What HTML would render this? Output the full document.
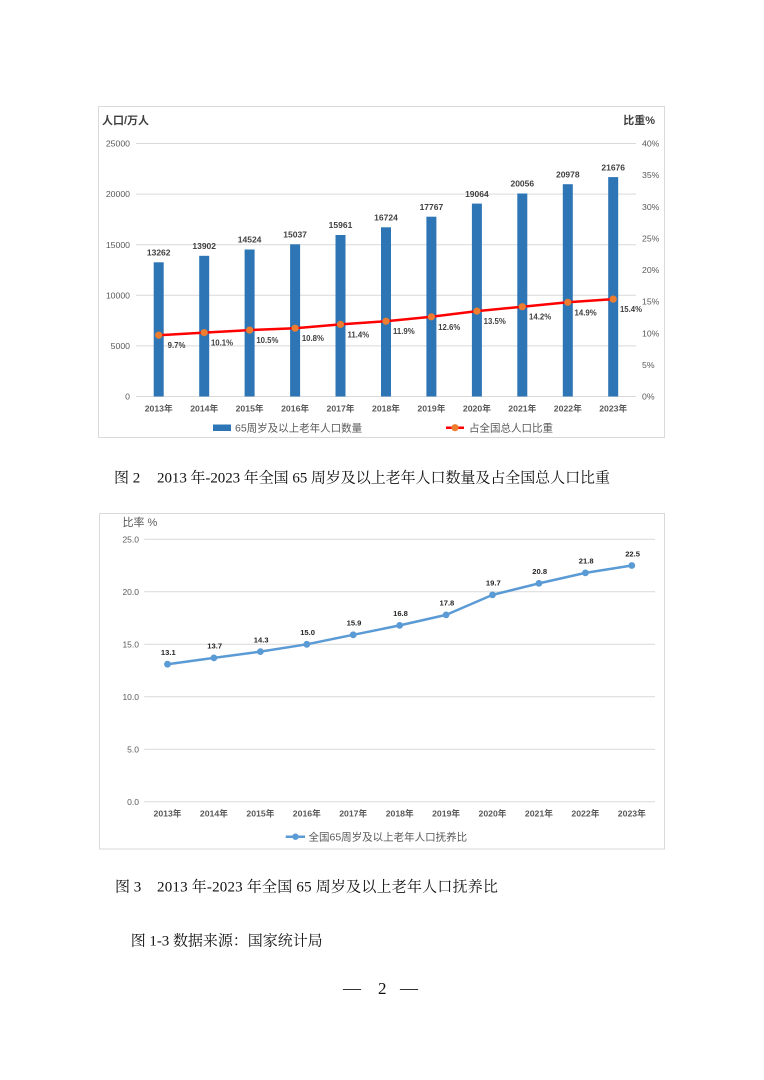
<!DOCTYPE html>
<html><head><meta charset="utf-8"><style>
html,body{margin:0;padding:0;background:#fff;}
svg{display:block;}
.s{font-family:"Liberation Sans","Noto Sans CJK SC",sans-serif;}
.sr{font-family:"Liberation Serif","Noto Serif CJK SC",serif;}
</style></head><body>
<svg width="764" height="1080" viewBox="0 0 764 1080" xmlns="http://www.w3.org/2000/svg">
<rect width="764" height="1080" fill="#fff"/>
<!-- Chart 1 -->
<rect x="98.5" y="106.5" width="566" height="331" fill="#fff" stroke="#d9d9d9" stroke-width="1"/>
<g stroke="#d9d9d9" stroke-width="1">
<line x1="136" y1="396.5" x2="636" y2="396.5"/>
<line x1="136" y1="345.9" x2="636" y2="345.9"/>
<line x1="136" y1="295.3" x2="636" y2="295.3"/>
<line x1="136" y1="244.7" x2="636" y2="244.7"/>
<line x1="136" y1="194.1" x2="636" y2="194.1"/>
<line x1="136" y1="143.5" x2="636" y2="143.5"/>
</g>
<g class="s" font-size="8.7" fill="#595959" text-anchor="end">
<text x="130" y="399.6">0</text>
<text x="130" y="349">5000</text>
<text x="130" y="298.4">10000</text>
<text x="130" y="247.8">15000</text>
<text x="130" y="197.2">20000</text>
<text x="130" y="146.6">25000</text>
</g>
<g class="s" font-size="8.7" fill="#595959">
<text x="642" y="399.6">0%</text>
<text x="642" y="368">5%</text>
<text x="642" y="336.4">10%</text>
<text x="642" y="304.7">15%</text>
<text x="642" y="273.1">20%</text>
<text x="642" y="241.5">25%</text>
<text x="642" y="209.9">30%</text>
<text x="642" y="178.2">35%</text>
<text x="642" y="146.6">40%</text>
</g>
<text class="s" x="102" y="124" font-size="11" font-weight="bold" fill="#404040">人口/万人</text>
<text class="s" x="655" y="124" font-size="11" font-weight="bold" fill="#404040" text-anchor="end">比重%</text>
<g fill="#2e75b6">
<rect x="153.7" y="262.3" width="10" height="134.2"/>
<rect x="199.2" y="255.8" width="10" height="140.7"/>
<rect x="244.6" y="249.5" width="10" height="147"/>
<rect x="290.1" y="244.3" width="10" height="152.2"/>
<rect x="335.5" y="235.0" width="10" height="161.5"/>
<rect x="381.0" y="227.3" width="10" height="169.2"/>
<rect x="426.4" y="216.7" width="10" height="179.8"/>
<rect x="471.9" y="203.6" width="10" height="192.9"/>
<rect x="517.3" y="193.5" width="10" height="203"/>
<rect x="562.8" y="184.2" width="10" height="212.3"/>
<rect x="608.2" y="177.1" width="10" height="219.4"/>
</g>
<g class="s" font-size="8.5" font-weight="bold" fill="#404040" text-anchor="middle">
<text x="158.7" y="255.5">13262</text>
<text x="204.2" y="249">13902</text>
<text x="249.6" y="242.7">14524</text>
<text x="295.1" y="237.5">15037</text>
<text x="340.5" y="228.2">15961</text>
<text x="386.0" y="220.5">16724</text>
<text x="431.4" y="209.9">17767</text>
<text x="476.9" y="196.8">19064</text>
<text x="522.3" y="186.7">20056</text>
<text x="567.8" y="177.4">20978</text>
<text x="613.2" y="170.3">21676</text>
</g>
<polyline fill="none" stroke="#ff0000" stroke-width="2.5" stroke-linejoin="round" points="158.7,335.2 204.2,332.6 249.6,330.1 295.1,328.2 340.5,324.4 386.0,321.2 431.4,316.8 476.9,311.1 522.3,306.7 567.8,302.3 613.2,299.1"/>
<g fill="#ed7d31">
<circle cx="158.7" cy="335.2" r="3.6"/>
<circle cx="204.2" cy="332.6" r="3.6"/>
<circle cx="249.6" cy="330.1" r="3.6"/>
<circle cx="295.1" cy="328.2" r="3.6"/>
<circle cx="340.5" cy="324.4" r="3.6"/>
<circle cx="386.0" cy="321.2" r="3.6"/>
<circle cx="431.4" cy="316.8" r="3.6"/>
<circle cx="476.9" cy="311.1" r="3.6"/>
<circle cx="522.3" cy="306.7" r="3.6"/>
<circle cx="567.8" cy="302.3" r="3.6"/>
<circle cx="613.2" cy="299.1" r="3.6"/>
</g>
<g class="s" font-size="7.8" font-weight="bold" fill="#404040" text-anchor="middle">
<text x="176.5" y="348.2">9.7%</text>
<text x="222" y="345.6">10.1%</text>
<text x="267.4" y="343.1">10.5%</text>
<text x="312.9" y="341.2">10.8%</text>
<text x="358.3" y="337.4">11.4%</text>
<text x="403.8" y="334.2">11.9%</text>
<text x="449.2" y="329.8">12.6%</text>
<text x="494.7" y="324.1">13.5%</text>
<text x="540.1" y="319.7">14.2%</text>
<text x="585.6" y="315.3">14.9%</text>
<text x="631" y="312.1">15.4%</text>
</g>
<g class="s" font-size="8.7" font-weight="bold" fill="#595959" text-anchor="middle">
<text x="158.7" y="411.5">2013年</text>
<text x="204.2" y="411.5">2014年</text>
<text x="249.6" y="411.5">2015年</text>
<text x="295.1" y="411.5">2016年</text>
<text x="340.5" y="411.5">2017年</text>
<text x="386.0" y="411.5">2018年</text>
<text x="431.4" y="411.5">2019年</text>
<text x="476.9" y="411.5">2020年</text>
<text x="522.3" y="411.5">2021年</text>
<text x="567.8" y="411.5">2022年</text>
<text x="613.2" y="411.5">2023年</text>
</g>
<rect x="213" y="424.5" width="18" height="6.5" fill="#2e75b6"/>
<text class="s" x="235" y="431.5" font-size="10.5" fill="#595959">65周岁及以上老年人口数量</text>
<line x1="446" y1="427.7" x2="464" y2="427.7" stroke="#ff0000" stroke-width="2.5"/>
<circle cx="455" cy="427.7" r="3.6" fill="#ed7d31"/>
<text class="s" x="469" y="431.5" font-size="10.5" fill="#595959">占全国总人口比重</text>

<!-- Caption 1 -->
<text class="sr" x="114" y="482.3" font-size="15" fill="#111">图 2</text>
<text class="sr" x="157" y="482.3" font-size="15" fill="#111" textLength="453" lengthAdjust="spacing">2013 年-2023 年全国 65 周岁及以上老年人口数量及占全国总人口比重</text>

<!-- Chart 2 -->
<rect x="99.5" y="513.5" width="565" height="335.5" fill="#fff" stroke="#d9d9d9" stroke-width="1"/>
<g stroke="#d9d9d9" stroke-width="1">
<line x1="144.3" y1="801.7" x2="655" y2="801.7"/>
<line x1="144.3" y1="749.2" x2="655" y2="749.2"/>
<line x1="144.3" y1="696.7" x2="655" y2="696.7"/>
<line x1="144.3" y1="644.3" x2="655" y2="644.3"/>
<line x1="144.3" y1="591.8" x2="655" y2="591.8"/>
<line x1="144.3" y1="539.3" x2="655" y2="539.3"/>
</g>
<g class="s" font-size="8.5" fill="#595959" text-anchor="end">
<text x="139" y="804.8">0.0</text>
<text x="139" y="752.3">5.0</text>
<text x="139" y="699.8">10.0</text>
<text x="139" y="647.4">15.0</text>
<text x="139" y="594.9">20.0</text>
<text x="139" y="542.4">25.0</text>
</g>
<text class="s" x="122.5" y="526.2" font-size="11" fill="#595959">比率 %</text>
<polyline fill="none" stroke="#5b9bd5" stroke-width="2.5" stroke-linejoin="round" points="167.5,664.2 213.9,657.9 260.4,651.6 306.8,644.3 353.2,634.8 399.7,625.4 446.1,614.9 492.5,594.9 538.9,583.4 585.4,572.9 631.8,565.5"/>
<g fill="#5b9bd5">
<circle cx="167.5" cy="664.2" r="3.4"/>
<circle cx="213.9" cy="657.9" r="3.4"/>
<circle cx="260.4" cy="651.6" r="3.4"/>
<circle cx="306.8" cy="644.3" r="3.4"/>
<circle cx="353.2" cy="634.8" r="3.4"/>
<circle cx="399.7" cy="625.4" r="3.4"/>
<circle cx="446.1" cy="614.9" r="3.4"/>
<circle cx="492.5" cy="594.9" r="3.4"/>
<circle cx="538.9" cy="583.4" r="3.4"/>
<circle cx="585.4" cy="572.9" r="3.4"/>
<circle cx="631.8" cy="565.5" r="3.4"/>
</g>
<g class="s" font-size="7.6" font-weight="bold" fill="#262626" text-anchor="middle">
<text x="168.3" y="655">13.1</text>
<text x="214.7" y="648.7">13.7</text>
<text x="261.2" y="642.4">14.3</text>
<text x="307.6" y="635.1">15.0</text>
<text x="354" y="625.6">15.9</text>
<text x="400.5" y="616.2">16.8</text>
<text x="446.9" y="605.7">17.8</text>
<text x="493.3" y="585.7">19.7</text>
<text x="539.7" y="574.2">20.8</text>
<text x="586.2" y="563.7">21.8</text>
<text x="632.6" y="556.3">22.5</text>
</g>
<g class="s" font-size="8.7" font-weight="bold" fill="#595959" text-anchor="middle">
<text x="167.5" y="816.5">2013年</text>
<text x="213.9" y="816.5">2014年</text>
<text x="260.4" y="816.5">2015年</text>
<text x="306.8" y="816.5">2016年</text>
<text x="353.2" y="816.5">2017年</text>
<text x="399.7" y="816.5">2018年</text>
<text x="446.1" y="816.5">2019年</text>
<text x="492.5" y="816.5">2020年</text>
<text x="538.9" y="816.5">2021年</text>
<text x="585.4" y="816.5">2022年</text>
<text x="631.8" y="816.5">2023年</text>
</g>
<line x1="285.7" y1="836.7" x2="305" y2="836.7" stroke="#5b9bd5" stroke-width="2.5"/>
<circle cx="295.5" cy="836.7" r="3.2" fill="#5b9bd5"/>
<text class="s" x="308.5" y="840.5" font-size="10.5" fill="#595959">全国65周岁及以上老年人口抚养比</text>

<!-- Caption 2 -->
<text class="sr" x="115" y="891.6" font-size="15" fill="#111">图 3</text>
<text class="sr" x="157" y="891.6" font-size="15" fill="#111" textLength="341" lengthAdjust="spacing">2013 年-2023 年全国 65 周岁及以上老年人口抚养比</text>

<!-- Source -->
<text class="sr" x="130.7" y="945.6" font-size="15" fill="#111" textLength="192" lengthAdjust="spacing">图 1-3 数据来源：国家统计局</text>

<!-- Page number -->
<text class="sr" x="343" y="994" font-size="18" fill="#111">—</text>
<text class="sr" x="378" y="994" font-size="17" fill="#111">2</text>
<text class="sr" x="400" y="994" font-size="18" fill="#111">—</text>
</svg>
</body></html>
